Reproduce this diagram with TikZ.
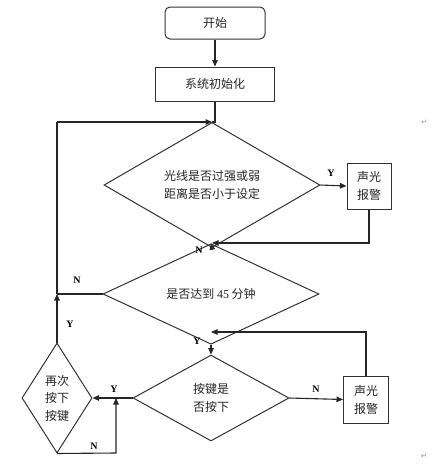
\documentclass[tikz,border=0pt]{standalone}
\usepackage{fontspec}
\setmainfont{Liberation Serif}
\newfontfamily\cjk{Noto Sans CJK SC}
\newfontfamily\symfont{DejaVu Sans}
\usetikzlibrary{shapes.geometric,arrows.meta}
\begin{document}
\begin{tikzpicture}[x=1pt,y=-1pt,
  every node/.style={inner sep=0pt},
  line/.style={line width=1.1pt,draw=black!85},
  arr/.style={line, -{Triangle[length=6.5pt,width=5.5pt]}},
  boxstyle/.style={draw=black!80,line width=1pt,rectangle,align=center,font=\cjk\fontsize{12}{18}\selectfont,text=black!85},
  dia/.style={draw=black!80,line width=1pt,diamond,aspect=1,align=center,font=\cjk\fontsize{12}{18}\selectfont,text=black!85},
  lab/.style={font=\bfseries\fontsize{10}{12}\selectfont},
  parmark/.style={font=\symfont\fontsize{7}{7}\selectfont,text=black!45}
]
\useasboundingbox (0,0) rectangle (435,466);
\fill[white] (0,0) rectangle (435,466);

\node[boxstyle,rounded corners=5pt,minimum width=100pt,minimum height=32pt] (start) at (215,23) {开始};
\node[boxstyle,minimum width=119pt,minimum height=34pt] (init) at (215,84) {系统初始化};
\node[dia,minimum width=216pt,minimum height=96pt] (d1) at (212,185) {光线是否过强或弱\\距离是否小于设定};
\node[boxstyle,minimum width=44pt,minimum height=46pt] (b1) at (369,186) {声光\\报警};
\node[dia,minimum width=216pt,minimum height=58pt] (d2) at (211,294) {是否达到 {\rmfamily 45} 分钟};
\node[dia,minimum width=156pt,minimum height=86pt] (d3) at (211,398) {按键是\\否按下};
\node[boxstyle,minimum width=45pt,minimum height=47pt] (b2) at (366,399.5) {声光\\报警};
\node[dia,minimum width=70pt,minimum height=110pt,font=\cjk\fontsize{12}{17.5}\selectfont] (d4) at (57,398) {再次\\按下\\按键};

\coordinate (j1) at (212,122);
\coordinate (j2) at (212,243);
\coordinate (j3) at (211,332);
\coordinate (c1) at (116,453);
\coordinate (lt) at (57,122);

\draw[arr] (start) -- (init);
\draw[line] (init.south) -- (init.south |- d1.north) -- (d1.north);
\draw[arr] (lt) -- (j1);
\draw[arr] (d1.east) -- (b1.west);
\draw[arr] (b1.south) -- (b1.south |- j2) -- (j2);
\draw[arr] (d1.south) -- (d2.north);
\draw[line] (d2.west) -- (d4.north |- d2.west);
\draw[arr] (d4.north) -- (d4.north |- d2.west);
\draw[line] (d4.north |- d2.west) -- (lt);
\draw[arr] (d2.south) -- (d3.north);
\draw[arr] (b2.north) -- (b2.north |- j3) -- (j3);
\draw[arr] (d3.east) -- (b2.west);
\draw[arr] (d3.west) -- (d4.east);
\draw[arr] (d4.south) -- (c1) -- (c1 |- d3.west);

\node[lab] (y1) at (331,173) {Y};
\node[lab] (n1) at (199,250) {N};
\node[lab] (n2) at (77,280) {N};
\node[lab] (y2) at (70,324) {Y};
\node[lab] (y3) at (197,341) {Y};
\node[lab] (n3) at (316,389) {N};
\node[lab] (y4) at (114,389) {Y};
\node[lab] (n4) at (94,446) {N};

\node[parmark] (m1) at (424,122) {↵};
\node[parmark] (m2) at (424,456) {↵};
\end{tikzpicture}
\end{document}
